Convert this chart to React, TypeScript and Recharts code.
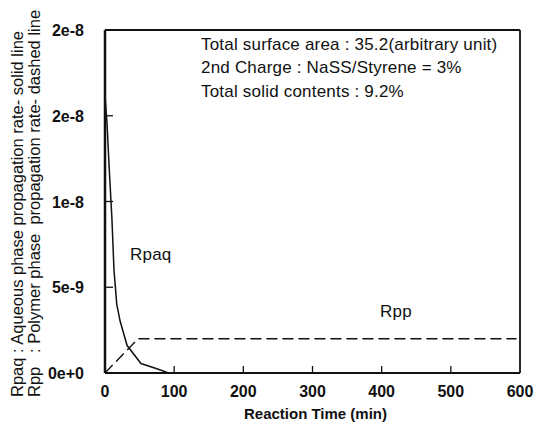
import React from 'react';
import { LineChart, Line, XAxis, YAxis, ReferenceLine } from 'recharts';

// Reaction time (min) and rates
const rpaqTime = [0, 3, 6, 10, 13, 17, 22, 32, 52, 75, 92, 600];
const rpaqRate = [1.62e-8, 1.45e-8, 1.2e-8, 9.0e-9, 6.0e-9, 4.0e-9, 3.0e-9, 1.6e-9, 5.5e-10, 2.5e-10, 0, 0];
const rppTime = [0, 48, 595];
const rppRate = [0, 2.0e-9, 2.0e-9];

const xTicks = [0, 100, 200, 300, 400, 500, 600];
const yTicks = [0, 5e-9, 1e-8, 1.5e-8, 2e-8];
const yTickLabels = ['0e+0', '5e-9', '1e-8', '2e-8', '2e-8'];

const notes = [
  'Total surface area : 35.2(arbitrary unit)',
  '2nd Charge : NaSS/Styrene = 3%',
  'Total solid contents : 9.2%',
];

const rpaqData = rpaqTime.map((t, i) => ({ t, v: rpaqRate[i] }));
const rppData = rppTime.map((t, i) => ({ t, v: rppRate[i] }));

const FONT = '"Liberation Sans", Arial, sans-serif';
const INK = '#111';

const XTick = ({ x, y, payload }: any) => (
  <g>
    {payload.value > 0 && payload.value < 600 && (
      <line x1={x} y1={y} x2={x} y2={y - 7} stroke={INK} strokeWidth={1.3} />
    )}
    <text x={x} y={y + 24} textAnchor="middle" fontFamily={FONT} fontSize={16} fontWeight="bold" fill={INK}>
      {payload.value}
    </text>
  </g>
);

const YTick = ({ x, y, payload, index }: any) => (
  <g>
    {index > 0 && index < yTicks.length - 1 && (
      <line x1={x} y1={y} x2={x + 8} y2={y} stroke={INK} strokeWidth={1.3} />
    )}
    <text x={x - 21} y={y + 6} textAnchor="end" fontFamily={FONT} fontSize={16} fontWeight="bold" fill={INK}>
      {yTickLabels[index]}
    </text>
  </g>
);

const YTitle = () => (
  <g fontFamily={FONT} fontSize={16.5} fill={INK}>
    <text transform="translate(23,397) rotate(-90)" style={{ whiteSpace: 'pre' }}>
      Rpaq : Aqueous phase propagation rate- solid line
    </text>
    <text transform="translate(40,397) rotate(-90)" style={{ whiteSpace: 'pre' }}>
      {'Rpp   : Polymer phase  propagation rate- dashed line'}
    </text>
  </g>
);

const overlay = (left: number, top: number, size: number): React.CSSProperties => ({
  position: 'absolute',
  left,
  top,
  fontFamily: FONT,
  fontSize: size,
  color: INK,
  whiteSpace: 'pre',
  lineHeight: 1,
  letterSpacing: 0.2,
});

export default function App() {
  return (
    <div style={{ position: 'absolute', left: 0, top: 0, width: 536, height: 433, background: '#fff' }}>
      <LineChart width={536} height={433} margin={{ top: 30, right: 16, bottom: 0, left: 0 }}>
        <XAxis
          type="number"
          dataKey="t"
          domain={[0, 600]}
          ticks={xTicks}
          allowDataOverflow
          height={60}
          tickSize={0}
          tickMargin={0}
          tickLine={false}
          tick={<XTick />}
          axisLine={{ stroke: INK, strokeWidth: 2 }}
          label={{
            value: 'Reaction Time (min)',
            position: 'insideBottom',
            offset: 14,
            fontFamily: FONT,
            fontSize: 15,
            fontWeight: 'bold',
            fill: INK,
            dx: 3,
          }}
        />
        <YAxis
          type="number"
          domain={[0, 2e-8]}
          ticks={yTicks}
          allowDataOverflow
          width={105}
          tickSize={0}
          tickMargin={0}
          tickLine={false}
          tick={<YTick />}
          axisLine={{ stroke: INK, strokeWidth: 2.5 }}
          label={{ content: <YTitle /> }}
        />
        <ReferenceLine y={2e-8} stroke={INK} strokeWidth={1.8} />
        <ReferenceLine x={600} stroke={INK} strokeWidth={1.8} />
        <Line
          data={rpaqData}
          dataKey="v"
          type="linear"
          stroke={INK}
          strokeWidth={1.5}
          dot={false}
          isAnimationActive={false}
        />
        <Line
          data={rppData}
          dataKey="v"
          type="linear"
          stroke={INK}
          strokeWidth={1.4}
          strokeDasharray="11 5"
          dot={false}
          isAnimationActive={false}
        />
      </LineChart>
      {notes.map((n, i) => (
        <div key={n} style={overlay(201, 35.5 + i * 23.5, 17)}>
          {n}
        </div>
      ))}
      <div style={overlay(130, 245.5, 17)}>Rpaq</div>
      <div style={overlay(380, 302.5, 17)}>Rpp</div>
    </div>
  );
}
